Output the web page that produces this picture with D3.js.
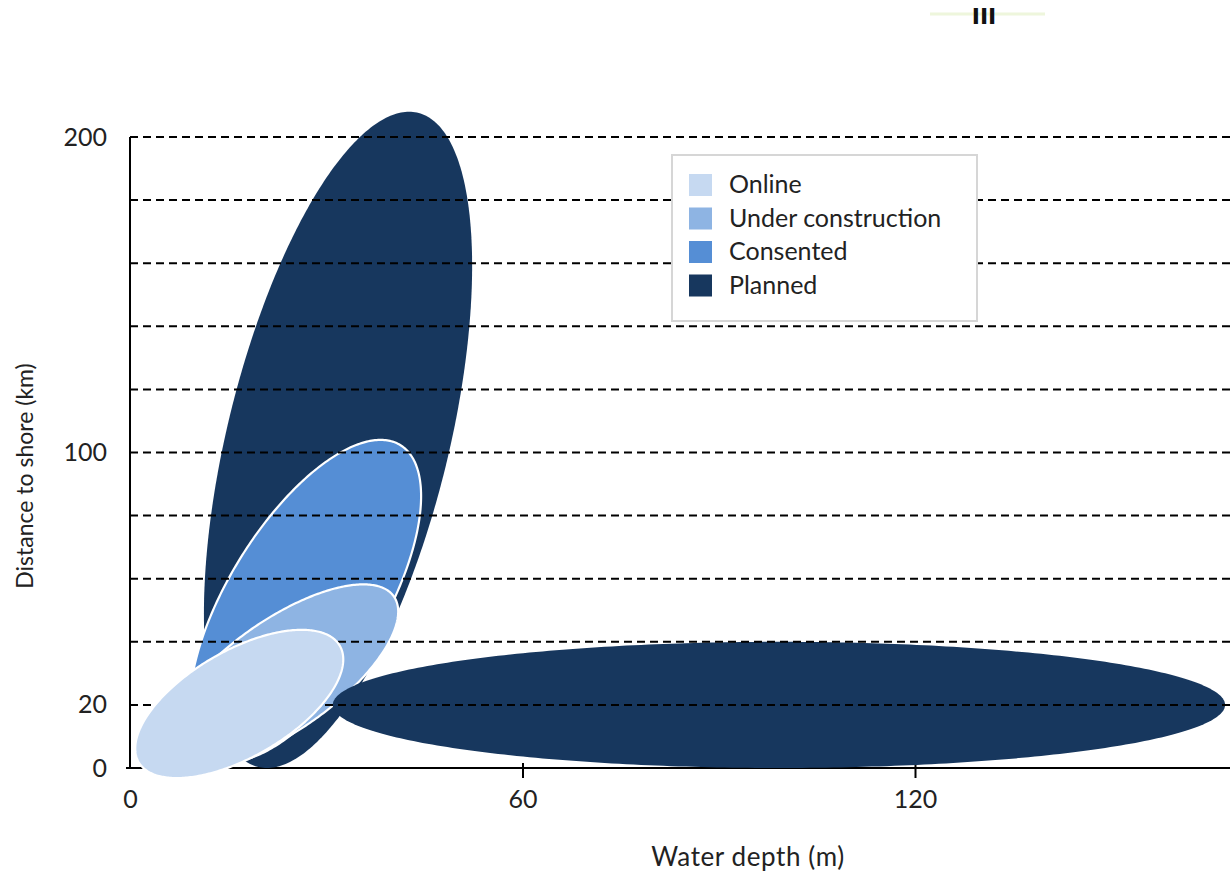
<!DOCTYPE html>
<html><head><meta charset="utf-8">
<script src="https://cdn.jsdelivr.net/npm/d3@7"></script>
<style>body{margin:0;background:#fff}svg{display:block;font-family:Lato,'Noto Sans',sans-serif}</style>
</head><body><svg id="c" width="1230" height="872"></svg>
<script>
// ---- data ----
const categories = ["Online", "Under construction", "Consented", "Planned"];
const categoryColors = ["#C6D9F1", "#8EB4E3", "#558ED5", "#17375E"];
// ellipses (drawn in this order)
const ellipseCategory = ["Planned", "Consented", "Under construction", "Planned", "Online"];
const centreDepth    = [31.8, 26.8, 23.2, 99.2, 16.7];   // m
const centreDistance = [104, 53, 29.4, 20, 20.3];         // km
const halfDepth      = [20.5, 17.7, 17.8, 68.2, 15.9];    // m
const halfDistance   = [104, 51, 28.8, 20, 23.5];         // km
const tilt           = [0.53, 0.65, 0.70, 0, 0.60];       // correlation of depth & distance
const xTickValues = [0, 60, 120];
const yTickValues = [0, 20, 100, 200];
const gridValues = [20, 40, 60, 80, 100, 120, 140, 160, 180, 200];

// ---- layout ----
const W = 1230, H = 872;
const svg = d3.select("#c");
const x = d3.scaleLinear().domain([0, 120]).range([130, 915]);
const y = d3.scaleLinear().domain([0, 200]).range([768, 137]);
const color = d3.scaleOrdinal().domain(categories).range(categoryColors);

// faint artefact at top
svg.append("line").attr("x1", 930).attr("x2", 1045).attr("y1", 14).attr("y2", 14)
  .attr("stroke", "#eef6dc").attr("stroke-width", 3);
svg.append("text").attr("x", 984).attr("y", 24).attr("text-anchor", "middle")
  .attr("font-size", 22).attr("font-weight", "bold").attr("font-family", "DejaVu Sans")
  .attr("fill", "#111").text("III");

// axes
const gx = svg.append("g").attr("transform", `translate(0,${y(0)})`)
  .call(d3.axisBottom(x).tickValues(xTickValues).tickSize(10).tickPadding(12));
gx.select(".domain").remove();
gx.selectAll(".tick line").attr("y1", -5).attr("y2", 10).attr("stroke", "#000").attr("stroke-width", 2);
gx.selectAll(".tick").filter(d => d === 0).select("line").remove();
gx.selectAll(".tick text").attr("font-size", 25).attr("fill", "#222").attr("font-family", "Lato");
gx.append("line").attr("x1", x(0) - 4).attr("x2", W).attr("y1", 0).attr("y2", 0)
  .attr("stroke", "#000").attr("stroke-width", 2);

const gy = svg.append("g").attr("transform", `translate(${x(0)},0)`)
  .call(d3.axisLeft(y).tickValues(yTickValues).tickSize(0).tickPadding(23));
gy.select(".domain").remove();
gy.selectAll(".tick text").attr("font-size", 25).attr("fill", "#222").attr("font-family", "Lato");
gy.append("line").attr("x1", 0).attr("x2", 0).attr("y1", y(200)).attr("y2", y(0) + 1)
  .attr("stroke", "#000").attr("stroke-width", 2);

svg.append("text").attr("x", 748).attr("y", 866).attr("text-anchor", "middle")
  .attr("font-size", 26).attr("letter-spacing", 0.6).attr("fill", "#222").text("Water depth (m)");
svg.append("text").attr("transform", "translate(33,476) rotate(-90)").attr("text-anchor", "middle")
  .attr("font-size", 23).attr("fill", "#222").text("Distance to shore (km)");

// ellipses
const ellipses = ellipseCategory.map((c, i) => ({
  cat: c, cx: centreDepth[i], cy: centreDistance[i], hx: halfDepth[i], hy: halfDistance[i], r: tilt[i]
}));
const line = d3.line().curve(d3.curveLinearClosed);
function ellipsePath(e) {
  const s = Math.sqrt(1 - e.r * e.r);
  const pts = d3.range(0, 360, 1).map(a => {
    const t = a * Math.PI / 180;
    return [x(e.cx + e.hx * Math.cos(t)), y(e.cy + e.hy * (e.r * Math.cos(t) + s * Math.sin(t)))];
  });
  return line(pts);
}
const gE = svg.append("g");
const gGrid = svg.append("g");
const gTop = svg.append("g");
ellipses.forEach((e, i) => {
  const target = e.cat === "Online" ? gTop : gE;
  target.append("path").attr("d", ellipsePath(e)).attr("fill", color(e.cat))
    .attr("stroke", e.cat === "Planned" ? "none" : "#fff").attr("stroke-width", 2.2);
});

// gridlines
gGrid.selectAll("line").data(gridValues).join("line")
  .attr("x1", x(0)).attr("x2", W).attr("y1", d => y(d)).attr("y2", d => y(d))
  .attr("stroke", "#000").attr("stroke-width", 2).attr("stroke-dasharray", "8,5");

// legend
const lg = svg.append("g");
lg.append("rect").attr("x", 672).attr("y", 155).attr("width", 305).attr("height", 166)
  .attr("fill", "#fff").attr("stroke", "#d6d6d6").attr("stroke-width", 2);
categories.forEach((c, i) => {
  const cy = 185 + i * 33.5;
  lg.append("rect").attr("x", 689).attr("y", cy - 11).attr("width", 23).attr("height", 22).attr("fill", color(c));
  lg.append("text").attr("x", 729).attr("y", cy + 8).attr("font-size", 25).attr("fill", "#222").text(c);
});
</script></body></html>
